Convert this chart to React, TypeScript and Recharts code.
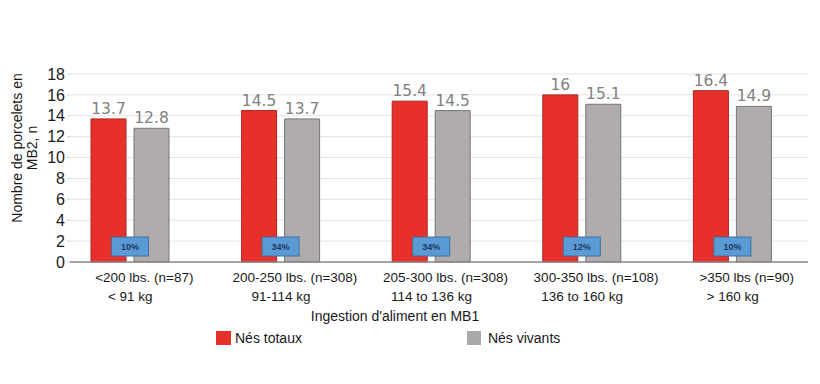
import React from 'react';
import { BarChart, Bar, XAxis, YAxis, CartesianGrid, LabelList, Legend } from 'recharts';

const lbsLabels = ['<200 lbs. (n=87)', '200-250 lbs. (n=308)', '205-300 lbs. (n=308)', '300-350 lbs. (n=108)', '>350 lbs (n=90)'];
const kgLabels = ['< 91 kg', '91-114 kg', '114 to 136 kg', '136 to 160 kg', '> 160 kg'];
const totalBorn = [13.7, 14.5, 15.4, 16, 16.4];
const bornAlive = [12.8, 13.7, 14.5, 15.1, 14.9];
const shareLabels = ['10%', '34%', '34%', '12%', '10%'];
const yTicks = [0, 2, 4, 6, 8, 10, 12, 14, 16, 18];

const data = lbsLabels.map((lbs, i) => ({
  lbs,
  kg: kgLabels[i],
  total: totalBorn[i],
  alive: bornAlive[i],
  share: shareLabels[i],
}));

const FONT = '"Liberation Sans", Arial, sans-serif';
const RED = '#e8302a';
const GRAY = '#b0acac';

const XTick = (props: any) => {
  const { x, y, payload, index } = props;
  const i = payload && payload.index != null ? payload.index : index;
  return (
    <g>
      <text x={x + 14} y={y} dy={12} textAnchor="middle" fontSize={13.5} fill="#1a1a1a" fontFamily={FONT}>
        {payload.value}
      </text>
      <text x={x} y={y} dy={31} textAnchor="middle" fontSize={13.5} fill="#1a1a1a" fontFamily={FONT}>
        {kgLabels[i]}
      </text>
    </g>
  );
};

const ShareBox = (props: any) => {
  const vb = props.viewBox && props.viewBox.width != null ? props.viewBox : props;
  const x = Number(vb.x);
  const y = Number(vb.y);
  const w = Number(vb.width);
  const h = Number(vb.height);
  const cx = x + w + 4;
  const base = y + h;
  return (
    <g>
      <rect x={cx - 18.5} y={base - 25} width={37} height={19} fill="#5b9bd5" stroke="#41719c" strokeWidth={1} />
      <text x={cx} y={base - 15.5} textAnchor="middle" dominantBaseline="central" fontSize={9} fontWeight="bold" fill="#1f3864" fontFamily={FONT}>
        {props.value}
      </text>
    </g>
  );
};

const YTitle = () => {
  const cy = 148;
  const x1 = 17;
  const x2 = 32;
  return (
    <g>
      <text x={x1} y={cy} transform={`rotate(-90 ${x1} ${cy})`} textAnchor="middle" dominantBaseline="central" fontSize={14} fill="#1a1a1a" fontFamily={FONT}>
        Nombre de porcelets en
      </text>
      <text x={x2} y={cy} transform={`rotate(-90 ${x2} ${cy})`} textAnchor="middle" dominantBaseline="central" fontSize={14} fill="#1a1a1a" fontFamily={FONT}>
        MB2, n
      </text>
    </g>
  );
};

const LegendContent = () => (
  <div style={{ display: 'flex', alignItems: 'center', height: 20, fontFamily: FONT, fontSize: 14, color: '#1a1a1a', paddingLeft: 216 }}>
    <span style={{ display: 'inline-block', width: 15, height: 14, background: RED, marginRight: 4 }} />
    <span>Nés totaux</span>
    <span style={{ display: 'inline-block', width: 14, height: 14, background: '#a9a9a9', marginLeft: 165, marginRight: 7 }} />
    <span>Nés vivants</span>
  </div>
);

export default function App() {
  return (
    <div style={{ position: 'absolute', left: 0, top: 0, width: 820, height: 384, background: '#fff' }}>
      <BarChart
        width={820}
        height={384}
        data={data}
        margin={{ top: 74, right: 12, left: 0, bottom: 36 }}
        barSize={35}
        barGap={8}
      >
        <CartesianGrid vertical={false} stroke="#e3e3e3" />
        <XAxis
          dataKey="lbs"
          height={66}
          padding={{ left: -15, right: 0 }}
          axisLine={{ stroke: '#8a8a8a', strokeWidth: 1.5 }}
          tickLine={false}
          tick={<XTick />}
          interval={0}
          label={{ value: "Ingestion d'aliment en MB1", position: 'insideBottom', offset: 7, dx: -44, fontSize: 14, fill: '#1a1a1a', fontFamily: FONT }}
        />
        <YAxis
          width={70}
          domain={[0, 18]}
          ticks={yTicks}
          interval={0}
          axisLine={false}
          tickLine={{ stroke: '#cfcfcf' }}
          tickSize={3}
          tickMargin={2}
          tick={{ fontSize: 16, fill: '#1a1a1a', fontFamily: FONT }}
          label={<YTitle />}
        />
        <Legend verticalAlign="bottom" height={20} content={<LegendContent />} />
        <Bar dataKey="total" name="Nés totaux" fill={RED} stroke="#b02420" strokeWidth={1} isAnimationActive={false}>
          <LabelList dataKey="total" position="top" offset={5} fontSize={15.5} fill="#7f7f7f" fontFamily='"DejaVu Sans", Verdana, sans-serif' />
          <LabelList dataKey="share" content={<ShareBox />} />
        </Bar>
        <Bar dataKey="alive" name="Nés vivants" fill={GRAY} stroke="#767676" strokeWidth={1} isAnimationActive={false}>
          <LabelList dataKey="alive" position="top" offset={5} fontSize={15.5} fill="#7f7f7f" fontFamily='"DejaVu Sans", Verdana, sans-serif' />
        </Bar>
      </BarChart>
    </div>
  );
}
